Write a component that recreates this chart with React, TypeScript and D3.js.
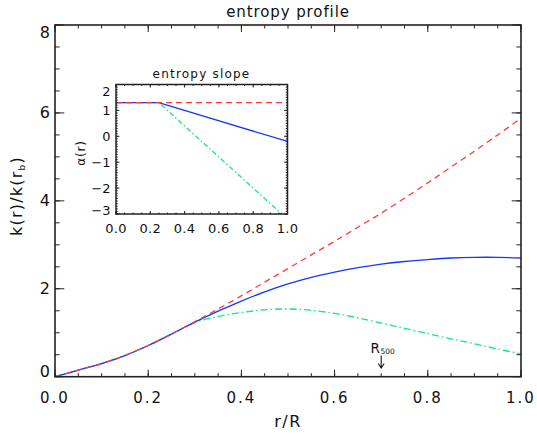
import React from "react";
import * as d3 from "d3";

// ---- data ----
const rGrid = [0, 0.05, 0.1, 0.15, 0.2, 0.25, 0.3, 0.35, 0.4, 0.45, 0.5, 0.55, 0.6, 0.65, 0.7, 0.75, 0.8, 0.85, 0.9, 0.95, 1.0];
const kRed = [0, 0.15, 0.3, 0.48, 0.71, 0.97, 1.25, 1.54, 1.84, 2.15, 2.46, 2.77, 3.08, 3.4, 3.72, 4.06, 4.41, 4.77, 5.13, 5.5, 5.88];
const kBlue = [0, 0.15, 0.3, 0.48, 0.71, 0.97, 1.24, 1.49, 1.72, 1.93, 2.11, 2.26, 2.38, 2.48, 2.56, 2.62, 2.665, 2.7, 2.715, 2.715, 2.7];
const kGreen = [0, 0.15, 0.3, 0.48, 0.71, 0.97, 1.23, 1.37, 1.46, 1.52, 1.54, 1.51, 1.44, 1.34, 1.22, 1.1, 0.98, 0.86, 0.75, 0.63, 0.52];

const aGrid = [0, 0.25, 1.0];
const aRed = [1.3, 1.3, 1.3];
const aBlue = [1.3, 1.3, -0.2];
const aGreen = [1.3, 1.3, -3.2];

const mainXTicks = [0, 0.2, 0.4, 0.6, 0.8, 1.0];
const mainYTicks = [0, 2, 4, 6, 8];
const insetXTicks = [0, 0.2, 0.4, 0.6, 0.8, 1.0];
const insetYTicks = [-3, -2, -1, 0, 1, 2];
const r500 = 0.7;

const FONT = "'DejaVu Sans', sans-serif";
const RED = "#ff3a3a";
const BLUE = "#1438ff";
const GREEN = "#10ea7a";
const AX = "#222";

function range(a: number, b: number, step: number) {
  const out: number[] = [];
  const n = Math.round((b - a) / step);
  for (let i = 0; i <= n; i++) out.push(+(a + i * step).toFixed(6));
  return out;
}

function Frame(props: {
  x: d3.ScaleLinear<number, number>;
  y: d3.ScaleLinear<number, number>;
  xMinor: number[];
  yMinor: number[];
  xMajor: number[];
  yMajor: number[];
  xLen: number;
  yLen: number;
  sw: number;
}) {
  const { x, y, xMinor, yMinor, xMajor, yMajor, xLen, yLen, sw } = props;
  const [x0, x1] = x.range();
  const [y0, y1] = y.range(); // y0 bottom, y1 top
  const segs: string[] = [];
  xMinor.forEach((v) => {
    const px = x(v);
    segs.push(`M${px},${y0}V${y0 - xLen / 2}`, `M${px},${y1}V${y1 + xLen / 2}`);
  });
  xMajor.forEach((v) => {
    const px = x(v);
    segs.push(`M${px},${y0}V${y0 - xLen}`, `M${px},${y1}V${y1 + xLen}`);
  });
  yMinor.forEach((v) => {
    const py = y(v);
    segs.push(`M${x0},${py}H${x0 + yLen / 2}`, `M${x1},${py}H${x1 - yLen / 2}`);
  });
  yMajor.forEach((v) => {
    const py = y(v);
    segs.push(`M${x0},${py}H${x0 + yLen}`, `M${x1},${py}H${x1 - yLen}`);
  });
  return (
    <g>
      <path d={segs.join("")} stroke={AX} strokeWidth={1} fill="none" />
      <rect x={x0} y={y1} width={x1 - x0} height={y0 - y1} fill="none" stroke={AX} strokeWidth={sw} />
    </g>
  );
}

export default function App() {
  const W = 537;
  const H = 434;

  // main plot
  const mx = d3.scaleLinear().domain([0, 1]).range([55, 521]);
  const my = d3.scaleLinear().domain([0, 8]).range([376.7, 25]);
  // inset
  const ix = d3.scaleLinear().domain([0, 1]).range([116, 287.5]);
  const iy = d3.scaleLinear().domain([-3, 2]).range([214, 84.5]);

  const mainLine = d3
    .line<number>()
    .x((_, i) => mx(rGrid[i]))
    .y((d) => my(d))
    .curve(d3.curveCatmullRom.alpha(0.5));
  const insetLine = d3
    .line<number>()
    .x((_, i) => ix(aGrid[i]))
    .y((d) => iy(d));

  const clamp = (v: number, lo: number, hi: number) => Math.max(lo, Math.min(hi, v));

  return (
    <svg width={W} height={H} style={{ display: "block", position: "absolute", left: 0, top: 0, background: "#fff" }}>
      <defs>
        <clipPath id="mainClip">
          <rect x={55} y={25} width={466} height={351.7} />
        </clipPath>
        <clipPath id="insetClip">
          <rect x={116} y={84.5} width={171.5} height={129.5} />
        </clipPath>
      </defs>
      <rect x={0} y={0} width={W} height={H} fill="#fff" />

      {/* main title */}
      <text x={288} y={17} textAnchor="middle" fontFamily={FONT} fontSize={15} letterSpacing={0.9} fill="#111">
        entropy profile
      </text>

      {/* main curves */}
      <g clipPath="url(#mainClip)" fill="none" strokeWidth={1.3}>
        <path d={mainLine(kGreen) || ""} stroke={GREEN} strokeDasharray="7,3,1.5,3" />
        <path d={mainLine(kBlue) || ""} stroke={BLUE} />
        <path d={mainLine(kRed) || ""} stroke={RED} strokeDasharray="6,4.5" />
      </g>

      <Frame
        x={mx}
        y={my}
        xMajor={mainXTicks}
        yMajor={mainYTicks}
        xMinor={range(0, 1, 0.05)}
        yMinor={range(0, 8, 0.5)}
        xLen={7}
        yLen={9.3}
        sw={1.6}
      />

      {/* main tick labels */}
      {mainXTicks.map((t) => (
        <text key={"mx" + t} x={mx(t)} y={403} textAnchor="middle" fontFamily={FONT} fontSize={15} letterSpacing={2} fill="#111">
          {t.toFixed(1)}
        </text>
      ))}
      {mainYTicks.map((t) => (
        <text
          key={"my" + t}
          x={50}
          y={clamp(my(t), 32, 371.7)}
          textAnchor="end"
          dominantBaseline="central"
          fontFamily={FONT}
          fontSize={16}
          fill="#111"
        >
          {t}
        </text>
      ))}

      {/* main axis titles */}
      <text x={288} y={427} textAnchor="middle" fontFamily={FONT} fontSize={16} letterSpacing={1.5} fill="#111">
        r/R
      </text>
      <text
        transform="translate(22,196) rotate(-90)"
        textAnchor="middle"
        fontFamily={FONT}
        fontSize={16}
        letterSpacing={1.2}
        fill="#111"
      >
        k(r)/k(r<tspan fontSize={9} dy={3}>b</tspan>
        <tspan dy={-3}>)</tspan>
      </text>

      {/* R500 marker */}
      <text x={370.5} y={352.7} fontFamily={FONT} fontSize={13.5} fill="#111">
        R
      </text>
      <text x={380.5} y={353.5} fontFamily={FONT} fontSize={7.5} fill="#111">
        500
      </text>
      <path
        d={`M${mx(r500)},355.5V368M${mx(r500) - 3},363.5L${mx(r500)},368L${mx(r500) + 3},363.5`}
        stroke="#111"
        strokeWidth={1.1}
        fill="none"
      />

      {/* inset */}
      <rect x={116} y={84.5} width={171.5} height={129.5} fill="#fff" />
      <g clipPath="url(#insetClip)" fill="none" strokeWidth={1.3}>
        <path d={insetLine(aGreen) || ""} stroke={GREEN} strokeDasharray="5,2.5,1.5,2.5" />
        <path d={insetLine(aBlue) || ""} stroke={BLUE} />
        <path d={insetLine(aRed) || ""} stroke={RED} strokeDasharray="6,4" />
      </g>
      <Frame
        x={ix}
        y={iy}
        xMajor={insetXTicks}
        yMajor={insetYTicks}
        xMinor={range(0, 1, 0.05)}
        yMinor={range(-3, 2, 0.1)}
        xLen={3}
        yLen={3.4}
        sw={1.5}
      />
      <text x={201.5} y={78.3} textAnchor="middle" fontFamily={FONT} fontSize={12} letterSpacing={1.2} fill="#111">
        entropy slope
      </text>
      {insetXTicks.map((t) => (
        <text key={"ix" + t} x={ix(t)} y={232.7} textAnchor="middle" fontFamily={FONT} fontSize={13} letterSpacing={0.3} fill="#111">
          {t.toFixed(1)}
        </text>
      ))}
      {insetYTicks.map((t) => (
        <text
          key={"iy" + t}
          x={110.5}
          y={clamp(iy(t), 91.7, 210)}
          textAnchor="end"
          dominantBaseline="central"
          fontFamily={FONT}
          fontSize={13}
          fill="#111"
        >
          {t < 0 ? "\u2212" + Math.abs(t) : String(t)}
        </text>
      ))}
      <text
        transform="translate(85,153) rotate(-90)"
        textAnchor="middle"
        fontFamily={FONT}
        fontSize={12}
        letterSpacing={0.8}
        fill="#111"
      >
        α(r)
      </text>
    </svg>
  );
}
